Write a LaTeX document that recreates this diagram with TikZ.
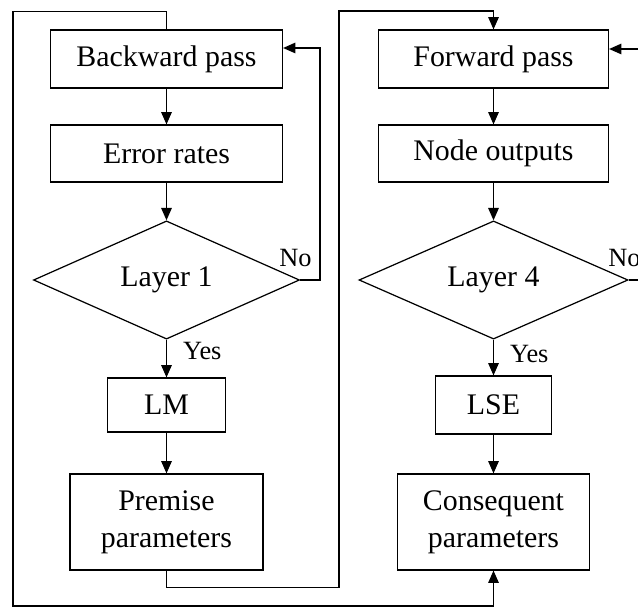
\documentclass[tikz,border=0pt]{standalone}
\usepackage{fontspec}
\setmainfont{Liberation Serif}
\usetikzlibrary{shapes.geometric,arrows.meta}

\begin{document}
\begin{tikzpicture}[
    box/.style={draw,line width=0.7pt,inner sep=0pt,align=center,font=\fontsize{17}{21}\selectfont},
    decision/.style={draw,diamond,line width=0.7pt,inner sep=0pt,minimum height=2.3cm,font=\fontsize{17}{21}\selectfont},
    flow/.style={-{Triangle[length=7pt,width=6pt]},line width=0.7pt},
    answer/.style={inner sep=0pt,font=\fontsize{15}{18}\selectfont}
]
    \useasboundingbox (0,0) rectangle (12.76,-12.16);
    \clip (0,0) rectangle (12.76,-12.16);

    \node[box,minimum width=4.64cm,minimum height=1.16cm] (bwd) at (3.33,-1.18) {Backward pass};
    \node[box,minimum width=4.64cm,minimum height=1.14cm] (err) at (3.33,-3.07) {Error rates};
    \node[decision,minimum width=5.32cm] (l1) at (3.33,-5.6) {Layer 1};
    \node[box,minimum width=2.36cm,minimum height=1.08cm] (lm) at (3.33,-8.1) {LM};
    \node[box,minimum width=3.86cm,minimum height=1.92cm] (prem) at (3.33,-10.44) {Premise\\parameters};

    \node[box,minimum width=4.6cm,minimum height=1.16cm] (fwd) at (9.87,-1.18) {Forward pass};
    \node[box,minimum width=4.6cm,minimum height=1.14cm] (nout) at (9.87,-3.07) {Node outputs};
    \node[decision,minimum width=5.38cm] (l4) at (9.87,-5.6) {Layer 4};
    \node[box,minimum width=2.32cm,minimum height=1.16cm] (lse) at (9.87,-8.1) {LSE};
    \node[box,minimum width=3.84cm,minimum height=1.92cm] (cons) at (9.87,-10.44) {Consequent\\parameters};

    \draw[flow] (bwd)--(err);
    \draw[flow] (err)--(l1);
    \draw[flow] (l1)--node[answer,pos=0.31,right=0.32cm]{Yes}(lm);
    \draw[flow] (lm)--(prem);

    \draw[flow] (fwd)--(nout);
    \draw[flow] (nout)--(l4);
    \draw[flow] (l4)--node[answer,pos=0.4,right=0.32cm]{Yes}(lse);
    \draw[flow] (lse)--(cons);

    \node[answer,anchor=east] (no1) at (6.24,-5.16) {No};
    \node[answer,anchor=west] (no4) at (12.16,-5.16) {No};

    \draw[flow] (l1.east)--(6.4,-5.6)|-([yshift=0.22cm]bwd.east);
    \draw[flow] (l4.east)--(13.2,-5.6)|-([yshift=0.2cm]fwd.east);
    \draw[flow] (bwd.north)--++(0,0.36)-|(0.26,-12.12)-|(cons.south);
    \draw[flow] (prem.south)--++(0,-0.34)-|(6.78,-0.22)-|(fwd.north);
\end{tikzpicture}
\end{document}
